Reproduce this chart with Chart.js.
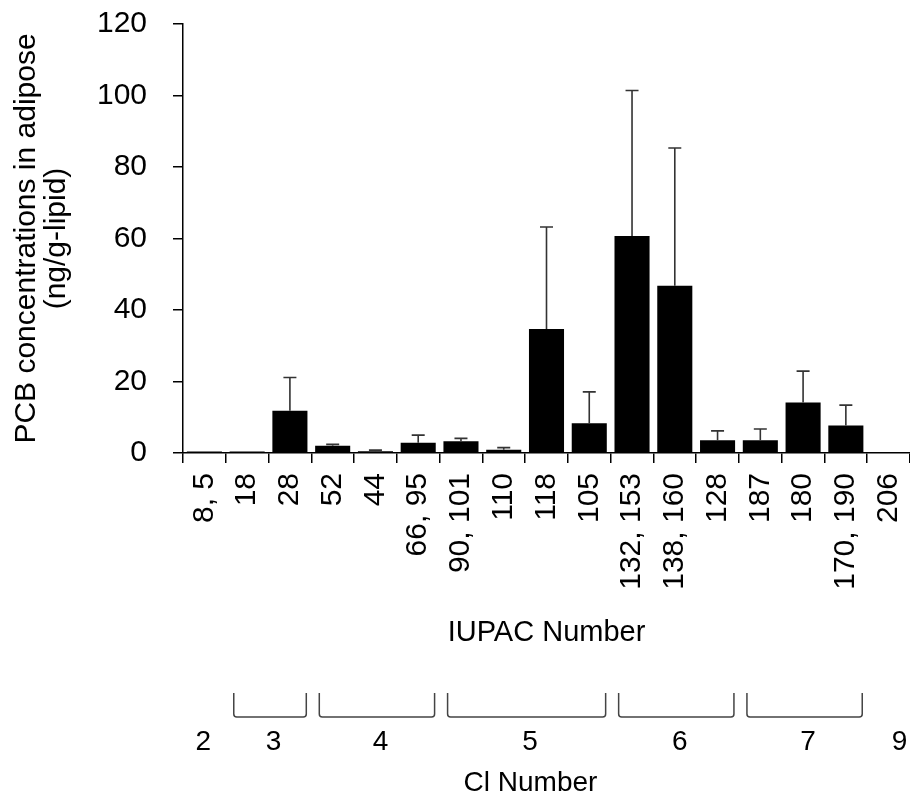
<!DOCTYPE html>
<html>
<head>
<meta charset="utf-8">
<title>PCB concentrations in adipose</title>
<script src="https://cdn.jsdelivr.net/npm/chart.js@4.4.1/dist/chart.umd.min.js"></script>
<style>
    html, body { margin: 0; padding: 0; background: #fff; }
    #wrap { width: 910px; height: 798px; }
</style>
</head>
<body>
<div id="wrap"><canvas id="pcbChart" width="910" height="798"></canvas></div>
<script>
// IUPAC congener labels and mean / SD values (ng/g-lipid)
const iupacLabels = ['8, 5', '18', '28', '52', '44', '66, 95', '90, 101', '110', '118', '105',
    '132, 153', '138, 160', '128', '187', '180', '170, 190', '206'];
const meanValues = [0.4, 0.4, 11.8, 2.0, 0.5, 2.9, 3.3, 0.9, 34.7, 8.3, 60.7, 46.8, 3.6, 3.6, 14.1, 7.7, 0.3];
const sdValues = [0, 0, 9.3, 0.4, 0.3, 2.1, 0.8, 0.6, 28.5, 8.8, 40.7, 38.5, 2.6, 3.1, 8.8, 5.7, 0];
const yTicks = [0, 20, 40, 60, 80, 100, 120];

// chlorine number groups (first and last category index of each group)
const clLabels = ['2', '3', '4', '5', '6', '7', '9'];
const clStart = [0, 1, 3, 6, 10, 13, 16];
const clEnd = [0, 2, 5, 9, 12, 15, 16];

Chart.defaults.font.family = 'Arial, "Liberation Sans", sans-serif';
Chart.defaults.color = '#000';

// upward error bars drawn from the y scale
const errorBars = {
    id: 'errorBars',
    afterDatasetsDraw(chart) {
        const ctx = chart.ctx;
        const y = chart.scales.y;
        const meta = chart.getDatasetMeta(0);
        ctx.save();
        ctx.strokeStyle = '#333';
        ctx.lineWidth = 1.6;
        meta.data.forEach((bar, i) => {
            if (!sdValues[i]) return;
            const top = y.getPixelForValue(meanValues[i] + sdValues[i]);
            ctx.beginPath();
            ctx.moveTo(bar.x, bar.y);
            ctx.lineTo(bar.x, top);
            ctx.moveTo(bar.x - 6.5, top);
            ctx.lineTo(bar.x + 6.5, top);
            ctx.stroke();
        });
        ctx.restore();
    }
};

// Cl number brackets under the IUPAC axis
const clGroups = {
    id: 'clGroups',
    afterDraw(chart) {
        const ctx = chart.ctx;
        const x = chart.scales.x;
        const base = chart.chartArea.bottom;
        const half = (x.getPixelForValue(1) - x.getPixelForValue(0)) / 2;
        const bTop = base + 240, bBot = base + 264;
        ctx.save();
        ctx.strokeStyle = '#444';
        ctx.lineWidth = 1.5;
        ctx.fillStyle = '#000';
        ctx.font = '28px Arial, "Liberation Sans", sans-serif';
        ctx.textAlign = 'center';
        ctx.textBaseline = 'middle';
        clLabels.forEach((lab, g) => {
            const x0 = x.getPixelForValue(clStart[g]) - half;
            const x1 = x.getPixelForValue(clEnd[g]) + half;
            if (clEnd[g] > clStart[g]) {
                const l = x0 + 8, r = x1 - 5;
                ctx.beginPath();
                ctx.moveTo(l, bTop);
                ctx.lineTo(l, bBot - 3);
                ctx.quadraticCurveTo(l, bBot, l + 3, bBot);
                ctx.lineTo(r - 3, bBot);
                ctx.quadraticCurveTo(r, bBot, r, bBot - 3);
                ctx.lineTo(r, bTop);
                ctx.stroke();
            }
            let cx = (x0 + x1) / 2 + 5;
            if (g === 0) cx -= 6;
            if (g === clLabels.length - 1) cx += 6;
            ctx.fillText(lab, cx, base + 289);
        });
        ctx.fillText('Cl Number', (chart.chartArea.left + chart.chartArea.right) / 2 - 16, base + 330);
        ctx.restore();
    }
};

new Chart(document.getElementById('pcbChart'), {
    type: 'bar',
    data: {
        labels: iupacLabels,
        datasets: [{
            data: meanValues,
            backgroundColor: '#000',
            borderWidth: 0,
            barPercentage: 0.82,
            categoryPercentage: 1.0
        }]
    },
    options: {
        responsive: false,
        animation: false,
        events: [],
        layout: { padding: { top: 24, right: 0, bottom: 148, left: 0 } },
        plugins: {
            legend: { display: false },
            tooltip: { enabled: false }
        },
        scales: {
            x: {
                afterFit: s => { s.height = 197; s.paddingLeft = 0; s.paddingRight = 0; },
                border: { color: '#000', width: 1.5 },
                grid: { offset: true, drawOnChartArea: false, tickLength: 10, color: '#000', lineWidth: 1.5 },
                ticks: { font: { size: 30 }, minRotation: 90, maxRotation: 90, padding: 10, autoSkip: false },
                title: { display: true, text: 'IUPAC Number', font: { size: 29 }, padding: 0 }
            },
            y: {
                min: 0,
                max: 120,
                afterFit: s => { s.width = 183; s.paddingTop = 0; s.paddingBottom = 0; },
                afterBuildTicks: s => { s.ticks = yTicks.map(v => ({ value: v })); },
                border: { color: '#000', width: 1.5 },
                grid: { drawOnChartArea: false, tickLength: 10, color: '#000', lineWidth: 1.5 },
                ticks: { font: { size: 30 }, padding: 26 },
                title: {
                    display: true,
                    text: ['PCB concentrations in adipose', '(ng/g-lipid)'],
                    font: { size: 30, lineHeight: 1.0 },
                    padding: { top: 12, bottom: 0 }
                }
            }
        }
    },
    plugins: [errorBars, clGroups]
});
</script>
</body>
</html>
